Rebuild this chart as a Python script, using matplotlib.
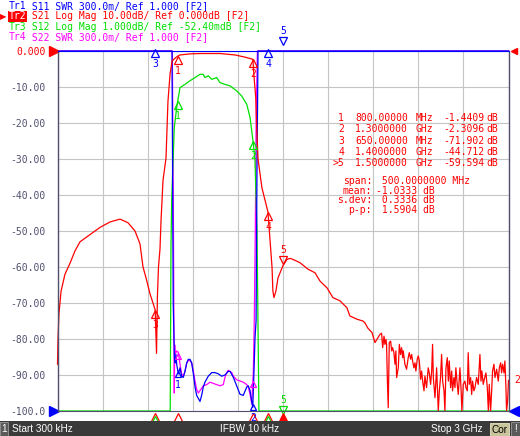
import numpy as np
import matplotlib
matplotlib.use("Agg")
import matplotlib.pyplot as plt
from matplotlib.patches import Rectangle
from matplotlib.transforms import offset_copy

# stimulus (MHz)
f_start, f_stop = 0.3, 3000.0

# Tr2  S21 log mag (dB), ref 0 dB, 10 dB/div
s21_f = [0.3, 3.6, 10, 24, 50, 83, 117, 150, 216, 283,
         349, 416, 469, 516, 549, 569, 589, 616, 650, 659,
         665, 672, 682, 689, 702, 722, 729, 735, 749, 762,
         782, 800, 815, 882, 948, 1081, 1181, 1247, 1300, 1306,
         1319, 1326, 1334, 1360, 1400, 1413, 1427, 1433, 1440, 1453,
         1467, 1500, 1527, 1547, 1567, 1613, 1666, 1713, 1746, 1793,
         1832, 1879, 1925, 1945, 1992, 2032, 2045, 2065, 2092, 2112,
         2145, 2156, 2163, 2172, 2178, 2185, 2189, 2194, 2200, 2207,
         2216, 2223, 2229, 2238, 2245, 2251, 2256, 2267, 2274, 2282,
         2289, 2296, 2300, 2311, 2322, 2333, 2340, 2349, 2356, 2362,
         2371, 2378, 2384, 2393, 2400, 2407, 2415, 2422, 2429, 2438,
         2444, 2455, 2466, 2473, 2482, 2489, 2495, 2500, 2511, 2522,
         2533, 2540, 2548, 2555, 2562, 2571, 2577, 2584, 2593, 2600,
         2606, 2615, 2622, 2628, 2637, 2644, 2650, 2659, 2666, 2677,
         2684, 2690, 2699, 2710, 2717, 2726, 2732, 2739, 2748, 2755,
         2761, 2770, 2777, 2788, 2799, 2810, 2817, 2823, 2832, 2839,
         2850, 2859, 2866, 2872, 2881, 2888, 2894, 2903, 2910, 2921,
         2932, 2939, 2948, 2954, 2961, 2970, 2976, 2983, 2987, 2994,
         3000]
s21_db = [-87, -80, -73, -66.7, -62, -59, -55.5, -53, -51, -49,
          -47.5, -46.7, -47.7, -50, -53.6, -60, -63, -67.5, -71.9, -84,
          -68, -60, -55, -47, -36, -29.7, -21, -14, -6.4, -2.8,
          -2.0, -1.44, -1.1, -0.8, -0.7, -0.7, -1.1, -1.7, -2.31, -6.4,
          -13, -22, -30, -38, -44.7, -52, -60, -66.7, -68.5, -66.7,
          -63, -59.6, -57.9, -57.6, -57.9, -58.8, -60.6, -61.6, -63.9, -65.8,
          -68.5, -69.4, -71.3, -73.6, -74.5, -75, -75.5, -77, -78.2, -81,
          -78.7, -78.4, -82.4, -79.2, -81.5, -80.1, -81.5, -90.7, -99.1, -81.0,
          -80.6, -83.3, -82.4, -83.8, -87.0, -83.3, -90.7, -88.0, -81.5, -84.3,
          -82.4, -85.2, -83.3, -87.0, -88.4, -85.2, -83.8, -85.6, -84.3, -86.1,
          -88.0, -86.6, -88.9, -85.6, -84.7, -86.1, -91.2, -88.9, -91.7, -94.4,
          -90.3, -93.5, -88.0, -89.4, -92.6, -88.9, -81.5, -90.7, -96.3, -88.0,
          -101, -94.4, -90.7, -84.3, -91.7, -94.4, -101, -88.0, -85.2, -91.7,
          -86.1, -93.5, -88.9, -94.4, -90.7, -93.5, -88.0, -92.6, -95.4, -88.0,
          -93.5, -101, -92.6, -91.7, -93.5, -94.4, -83.8, -92.6, -90.7, -95.4,
          -91.7, -94.4, -93.5, -90.7, -92.6, -84.3, -91.7, -88.9, -92.6, -91.2,
          -89.4, -93.5, -101, -92.6, -101, -94.4, -88.9, -87.0, -90.7, -88.4,
          -91.7, -88.0, -86.6, -89.4, -87.0, -89.4, -86.1, -93.5, -101, -97.2,
          -91.5]

# Tr3  S12 log mag (dB), ref -52.40 mdB, 1 dB/div
s12_f = [0.3, 750, 755, 760, 766, 770.5, 777, 793, 815, 848,
         881, 915, 948, 970, 981, 1003, 1026, 1059, 1081, 1114,
         1148, 1192, 1225, 1259, 1281, 1292, 1303, 1314, 1327, 1340,
         3000]
s12_db = [-15, -12, -5.5, -4.2, -3.4, -2.92, -2.18, -1.62, -1.07, -0.98,
          -0.88, -0.79, -0.70, -0.70, -0.79, -0.74, -0.84, -0.79, -0.93, -0.98,
          -1.02, -1.16, -1.30, -1.53, -1.90, -2.27, -2.64, -3.11, -5.0, -12,
          -15]

# Tr1  S11 SWR, ref 1.000, 300m/div
s11_f = [0.3, 762, 770, 778, 783, 788, 793, 804, 815, 826,
         837, 848, 860, 870, 882, 893, 904, 915, 926, 948,
         959, 970, 981, 1003, 1026, 1048, 1070, 1092, 1114, 1136,
         1148, 1170, 1192, 1214, 1236, 1259, 1269, 1281, 1292, 1299,
         1307, 1314, 1321, 1327, 1334, 3000]
s11_swr = [20, 20, 1.9, 1.44, 1.40, 1.47, 1.39, 1.31, 1.36, 1.29,
           1.28, 1.33, 1.40, 1.43, 1.43, 1.40, 1.31, 1.20, 1.13, 1.08,
           1.13, 1.20, 1.24, 1.29, 1.32, 1.32, 1.31, 1.29, 1.30, 1.33,
           1.33, 1.28, 1.21, 1.14, 1.13, 1.20, 1.21, 1.17, 1.08, 1.03,
           1.33, 1.61, 1.75, 3.0, 20, 20]

# Tr4  S22 SWR, ref 1.000, 300m/div
s22_f = [0.3, 764, 768, 772, 775, 777, 780, 782, 793, 804,
         815, 826, 837, 848, 860, 870, 882, 893, 904, 915,
         926, 937, 948, 970, 993, 1015, 1037, 1059, 1081, 1103,
         1114, 1126, 1136, 1148, 1159, 1170, 1192, 1214, 1236, 1259,
         1269, 1281, 1292, 1303, 1309, 1316, 1322, 1330, 3000]
s22_swr = [20, 20, 3.2, 2.4, 1.58, 1.15, 1.55, 1.47, 1.50, 1.49,
           1.39, 1.31, 1.29, 1.33, 1.40, 1.42, 1.42, 1.40, 1.33, 1.25,
           1.18, 1.15, 1.17, 1.21, 1.22, 1.24, 1.23, 1.22, 1.21, 1.22,
           1.28, 1.32, 1.34, 1.33, 1.32, 1.29, 1.26, 1.25, 1.24, 1.22,
           1.20, 1.14, 1.06, 1.33, 1.75, 2.5, 3.5, 20, 20]

# markers (shared stimulus)
mk_num = [1, 2, 3, 4, 5]
mk_f = [800, 1300, 650, 1400, 1500]
mk_s21 = [-1.4409, -2.3096, -71.902, -44.712, -59.594]
mk_freq_txt = ["800.00000", "1.3000000", "650.00000", "1.4000000", "1.5000000"]
mk_unit_txt = ["MHz", "GHz", "MHz", "GHz", "GHz"]
stats_lbl = ["span:", "mean:", "s.dev:", "p-p:"]
stats_val = [" 500.0000000 MHz", "-1.0333 dB", " 0.3336 dB", " 1.5904 dB"]

ylabels = ["0.000", "-10.00", "-20.00", "-30.00", "-40.00", "-50.00",
           "-60.00", "-70.00", "-80.00", "-90.00", "-100.0"]

RED, GRN, BLU, MAG = "#ff0000", "#00e000", "#0000ff", "#ff00ff"
AXC = "#50506e"
MONO = "DejaVu Sans Mono"
FS = 7.0

W, H = 520, 436
fig = plt.figure(figsize=(W / 100, H / 100), dpi=100)
fig.patch.set_facecolor("white")


def fpos(x, y):
    return x / W, 1 - y / H


ax = fig.add_axes([57.5 / W, (H - 411) / H, 451 / W, 360 / H])
ax.set_xlim(f_start, f_stop)
ax.set_ylim(-100, 0)
ax.set_xticks(np.linspace(f_start, f_stop, 11))
ax.set_xticklabels([])
ax.set_yticks(np.arange(0, -101, -10))
ax.set_yticklabels(ylabels, family=MONO, fontsize=FS)
for i, t in enumerate(ax.get_yticklabels()):
    t.set_color(RED if i == 0 else AXC)
ax.tick_params(length=0, pad=8.5)
ax.grid(True, color="#c4c4c4", lw=0.8)
for s in ["left", "right"]:
    ax.spines[s].set_color(AXC)
    ax.spines[s].set_linewidth(1.0)
ax.spines["top"].set_color(BLU)
ax.spines["bottom"].set_color(AXC)


def logmag(v, ref, scale):
    return np.clip((np.asarray(v) - ref) / scale * 10, -100, 0)


def swr(v, ref, scale):
    return np.clip(-100 + (np.asarray(v) - ref) / scale * 10, -100, 0)


d21 = logmag(s21_db, 0.0, 10.0)
d12 = logmag(s12_db, -0.0524, 1.0)
d11 = swr(s11_swr, 1.0, 0.3)
d22 = swr(s22_swr, 1.0, 0.3)

lw = 0.9
ax.plot(s22_f, d22, color=MAG, lw=lw, clip_on=False)
ax.plot(s12_f, d12, color=GRN, lw=lw, clip_on=False)
ax.plot(s11_f, d11, color=BLU, lw=lw, clip_on=False)
ax.plot(s21_f, d21, color=RED, lw=lw, clip_on=False)


def off(dx, dy):
    return offset_copy(ax.transData, fig=fig, x=dx, y=dy, units="dots")


def marker(f, d, color, num, up=True, filled=False, ms=5.8):
    if up:
        ax.plot([f], [d], marker="^", ms=ms, mfc=color if filled else "none",
                mec=color, mew=0.9, transform=off(0, -4), clip_on=False)
        if num is not None:
            ax.text(f, d, str(num), transform=off(0, -15), ha="center",
                    va="center", color=color, fontsize=FS, family=MONO)
    else:
        ax.plot([f], [d], marker="v", ms=ms, mfc=color if filled else "none",
                mec=color, mew=0.9, transform=off(0, 6), clip_on=False)
        if num is not None:
            ax.text(f, d, str(num), transform=off(0, 16), ha="center",
                    va="center", color=color, fontsize=FS, family=MONO)


# Tr2 markers
for n, f, v in zip(mk_num, mk_f, mk_s21):
    marker(f, v, RED, n, up=(n != 5))
# Tr3 markers
for n, f in zip(mk_num[:2], mk_f[:2]):
    marker(f, np.interp(f, s12_f, d12), GRN, n)
marker(mk_f[4], -101.5, GRN, 5, up=False)
# Tr1 markers
for n, f in zip(mk_num[:2], mk_f[:2]):
    marker(f, np.interp(f, s11_f, d11), BLU, n, ms=4.5)
for n, f in zip(mk_num[2:4], mk_f[2:4]):
    marker(f, 0.6, BLU, n)
marker(mk_f[4], 1.0, BLU, 5, up=False)
# Tr4 markers
for n, f in zip(mk_num[:2], mk_f[:2]):
    marker(f, np.interp(f, s22_f, d22), MAG, None, ms=4.5)

# stimulus-axis indicators below the grid
for n, f in zip(mk_num, mk_f):
    ax.plot([f], [-100], marker="^", ms=6.5, mfc=RED if n == 5 else "none",
            mec=RED, mew=0.9, transform=off(0, -7), clip_on=False)
for f in [mk_f[2], mk_f[3]]:
    ax.plot([f], [-100], marker="^", ms=5.5, mfc="none", mec=GRN, mew=0.9,
            transform=off(0, -9), clip_on=False)

# reference position arrows
ax.plot([f_start], [0], marker=">", ms=7, color=RED, transform=off(-4, 0), clip_on=False)
ax.plot([f_start], [-100], marker=">", ms=7, color=BLU, transform=off(-4, 0), clip_on=False)
ax.plot([f_stop], [0], marker="<", ms=5, color=RED, transform=off(5, 0), clip_on=False)
ax.plot([f_stop], [-100], marker="<", ms=7, color=BLU, transform=off(5, 0), clip_on=False)
ax.text(f_stop, d21[-1], "2", transform=off(6, 0), color=RED, fontsize=FS,
        family=MONO, va="center", ha="left")

# marker table
for i, n in enumerate(mk_num):
    y = 118 + i * 11.3
    lbl = ">%d" % n if n == 5 else str(n)
    fig.text(*fpos(344, y), lbl, color=RED, fontsize=FS, family=MONO, ha="right", va="center")
    fig.text(*fpos(355, y), mk_freq_txt[i], color=RED, fontsize=FS, family=MONO, va="center")
    fig.text(*fpos(416, y), mk_unit_txt[i], color=RED, fontsize=FS, family=MONO, va="center")
    fig.text(*fpos(443, y), "%.5g" % mk_s21[i] if abs(mk_s21[i]) < 10 else "%.3f" % mk_s21[i],
             color=RED, fontsize=FS, family=MONO, va="center")
    fig.text(*fpos(486, y), "dB", color=RED, fontsize=FS, family=MONO, va="center")
for i, (l, v) in enumerate(zip(stats_lbl, stats_val)):
    y = 181 + i * 9.7
    fig.text(*fpos(372, y), l, color=RED, fontsize=FS, family=MONO, ha="right", va="center")
    fig.text(*fpos(376, y), v, color=RED, fontsize=FS, family=MONO, va="center")

# trace header
hdr = [("Tr1", " S11 SWR 300.0m/ Ref 1.000 [F2]", BLU),
       ("Tr2", " S21 Log Mag 10.00dB/ Ref 0.000dB [F2]", RED),
       ("Tr3", " S12 Log Mag 1.000dB/ Ref -52.40mdB [F2]", GRN),
       ("Tr4", " S22 SWR 300.0m/ Ref 1.000 [F2]", MAG)]
cw = FS / 72 * 100 * 0.602
for i, (tr, rest, c) in enumerate(hdr):
    y = 6 + i * 10.4
    if tr == "Tr2":
        fig.add_artist(Rectangle(fpos(7.5, y + 5.2), (3 * cw + 1.5) / W, 10.4 / H,
                                 transform=fig.transFigure, color=RED, lw=0))
        fig.text(*fpos(8.3, y), tr, color="white", fontsize=FS, family=MONO, va="center")
        fig.text(*fpos(0, y), "\u25b6", color=RED, fontsize=6, va="center")
    else:
        fig.text(*fpos(8.3, y), tr, color=c, fontsize=FS, family=MONO, va="center")
    fig.text(*fpos(8.3 + 3 * cw, y), rest, color=c, fontsize=FS, family=MONO, va="center")

# status bar
fig.add_artist(Rectangle((0, 0), 1, 15 / H, transform=fig.transFigure,
                         color="#3a3a3a", lw=0))
fig.add_artist(Rectangle(fpos(0, 436), 8 / W, 14 / H, transform=fig.transFigure,
                         facecolor="#5a5a5a", edgecolor="#9a9a9a", lw=0.6))
fig.add_artist(Rectangle(fpos(490, 436), 19 / W, 13 / H, transform=fig.transFigure,
                         facecolor="#c8c49c", edgecolor="#e8e4c0", lw=0.6))
fig.add_artist(Rectangle(fpos(511, 436), 9 / W, 14 / H, transform=fig.transFigure,
                         facecolor="#5a5a5a", edgecolor="#9a9a9a", lw=0.6))
sb = dict(fontsize=7.2, family="Liberation Sans", va="center")
fig.text(*fpos(4, 429), "1", color="white", ha="center", **sb)
fig.text(*fpos(12, 429), "Start 300 kHz", color="white", **sb)
fig.text(*fpos(250, 429), "IFBW 10 kHz", color="white", ha="center", **sb)
fig.text(*fpos(483, 429), "Stop 3 GHz", color="white", ha="right", **sb)
fig.text(*fpos(499.5, 429.5), "Cor", color="black", ha="center", **sb)
fig.text(*fpos(515.5, 429), "!", color="white", ha="center", **sb)

fig.savefig("out.png", dpi=100)
